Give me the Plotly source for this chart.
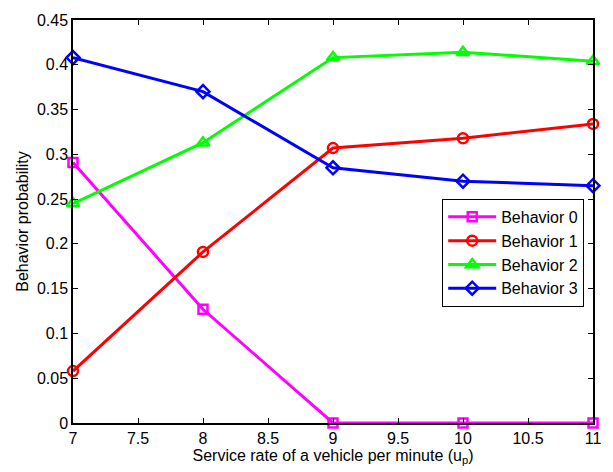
import plotly.graph_objects as go

x_vals = [7, 8, 9, 10, 11]
behavior0 = [0.291, 0.127, 0.0, 0.0, 0.0]
behavior1 = [0.058, 0.191, 0.307, 0.318, 0.334]
behavior2 = [0.245, 0.313, 0.408, 0.414, 0.404]
behavior3 = [0.408, 0.370, 0.285, 0.270, 0.265]
names = ["Behavior 0", "Behavior 1", "Behavior 2", "Behavior 3"]
x_ticks = [7, 7.5, 8, 8.5, 9, 9.5, 10, 10.5, 11]
x_tick_text = ["7", "7.5", "8", "8.5", "9", "9.5", "10", "10.5", "11"]
y_ticks = [0, 0.05, 0.1, 0.15, 0.2, 0.25, 0.3, 0.35, 0.4, 0.45]
y_tick_text = ["0", "0.05", "0.1", "0.15", "0.2", "0.25", "0.3", "0.35", "0.4", "0.45"]

colors = ["#FF00FF", "#FF0000", "#00FF00", "#0000FF"]
symbols = ["square-open", "circle-open", "triangle-up-open", "diamond-open"]
sizes = [9, 10, 11, 10]
series = [behavior0, behavior1, behavior2, behavior3]

fig = go.Figure()
for i, (nm, ys) in enumerate(zip(names, series)):
    fig.add_trace(go.Scatter(
        x=x_vals, y=ys, name=nm, mode="lines+markers",
        line=dict(color=colors[i], width=3),
        marker=dict(symbol=symbols[i], size=sizes[i], color=colors[i],
                    line=dict(color=colors[i], width=2.5)),
        cliponaxis=False,
    ))

font_family = "Liberation Sans, Arial, sans-serif"
fig.update_layout(
    width=613, height=472,
    margin=dict(l=73, r=19, t=13, b=49),
    paper_bgcolor="white", plot_bgcolor="white",
    font=dict(family=font_family, size=16, color="black"),
    showlegend=True,
    legend=dict(
        x=0.710, y=0.556, xanchor="left", yanchor="top",
        bordercolor="black", borderwidth=1, bgcolor="white",
        font=dict(size=16, family=font_family),
        itemwidth=48,
    ),
    xaxis=dict(
        range=[7, 11], tickvals=x_ticks, ticktext=x_tick_text,
        ticks="inside", ticklen=5, tickwidth=1, tickcolor="black",
        showline=True, linecolor="black", linewidth=1.5, mirror="ticks",
        showgrid=False, zeroline=False,
        title=dict(text="Service rate of a vehicle per minute (u<sub>p</sub>)", standoff=2,
                   font=dict(size=16)),
        tickfont=dict(size=16),
    ),
    yaxis=dict(
        range=[0, 0.45], tickvals=y_ticks, ticktext=y_tick_text,
        ticks="inside", ticklen=5, tickwidth=1, tickcolor="black",
        showline=True, linecolor="black", linewidth=1.5, mirror="ticks",
        showgrid=False, zeroline=False,
        title=dict(text="Behavior probability", standoff=4, font=dict(size=16)),
        tickfont=dict(size=16),
    ),
)

fig.write_html("out.html")
